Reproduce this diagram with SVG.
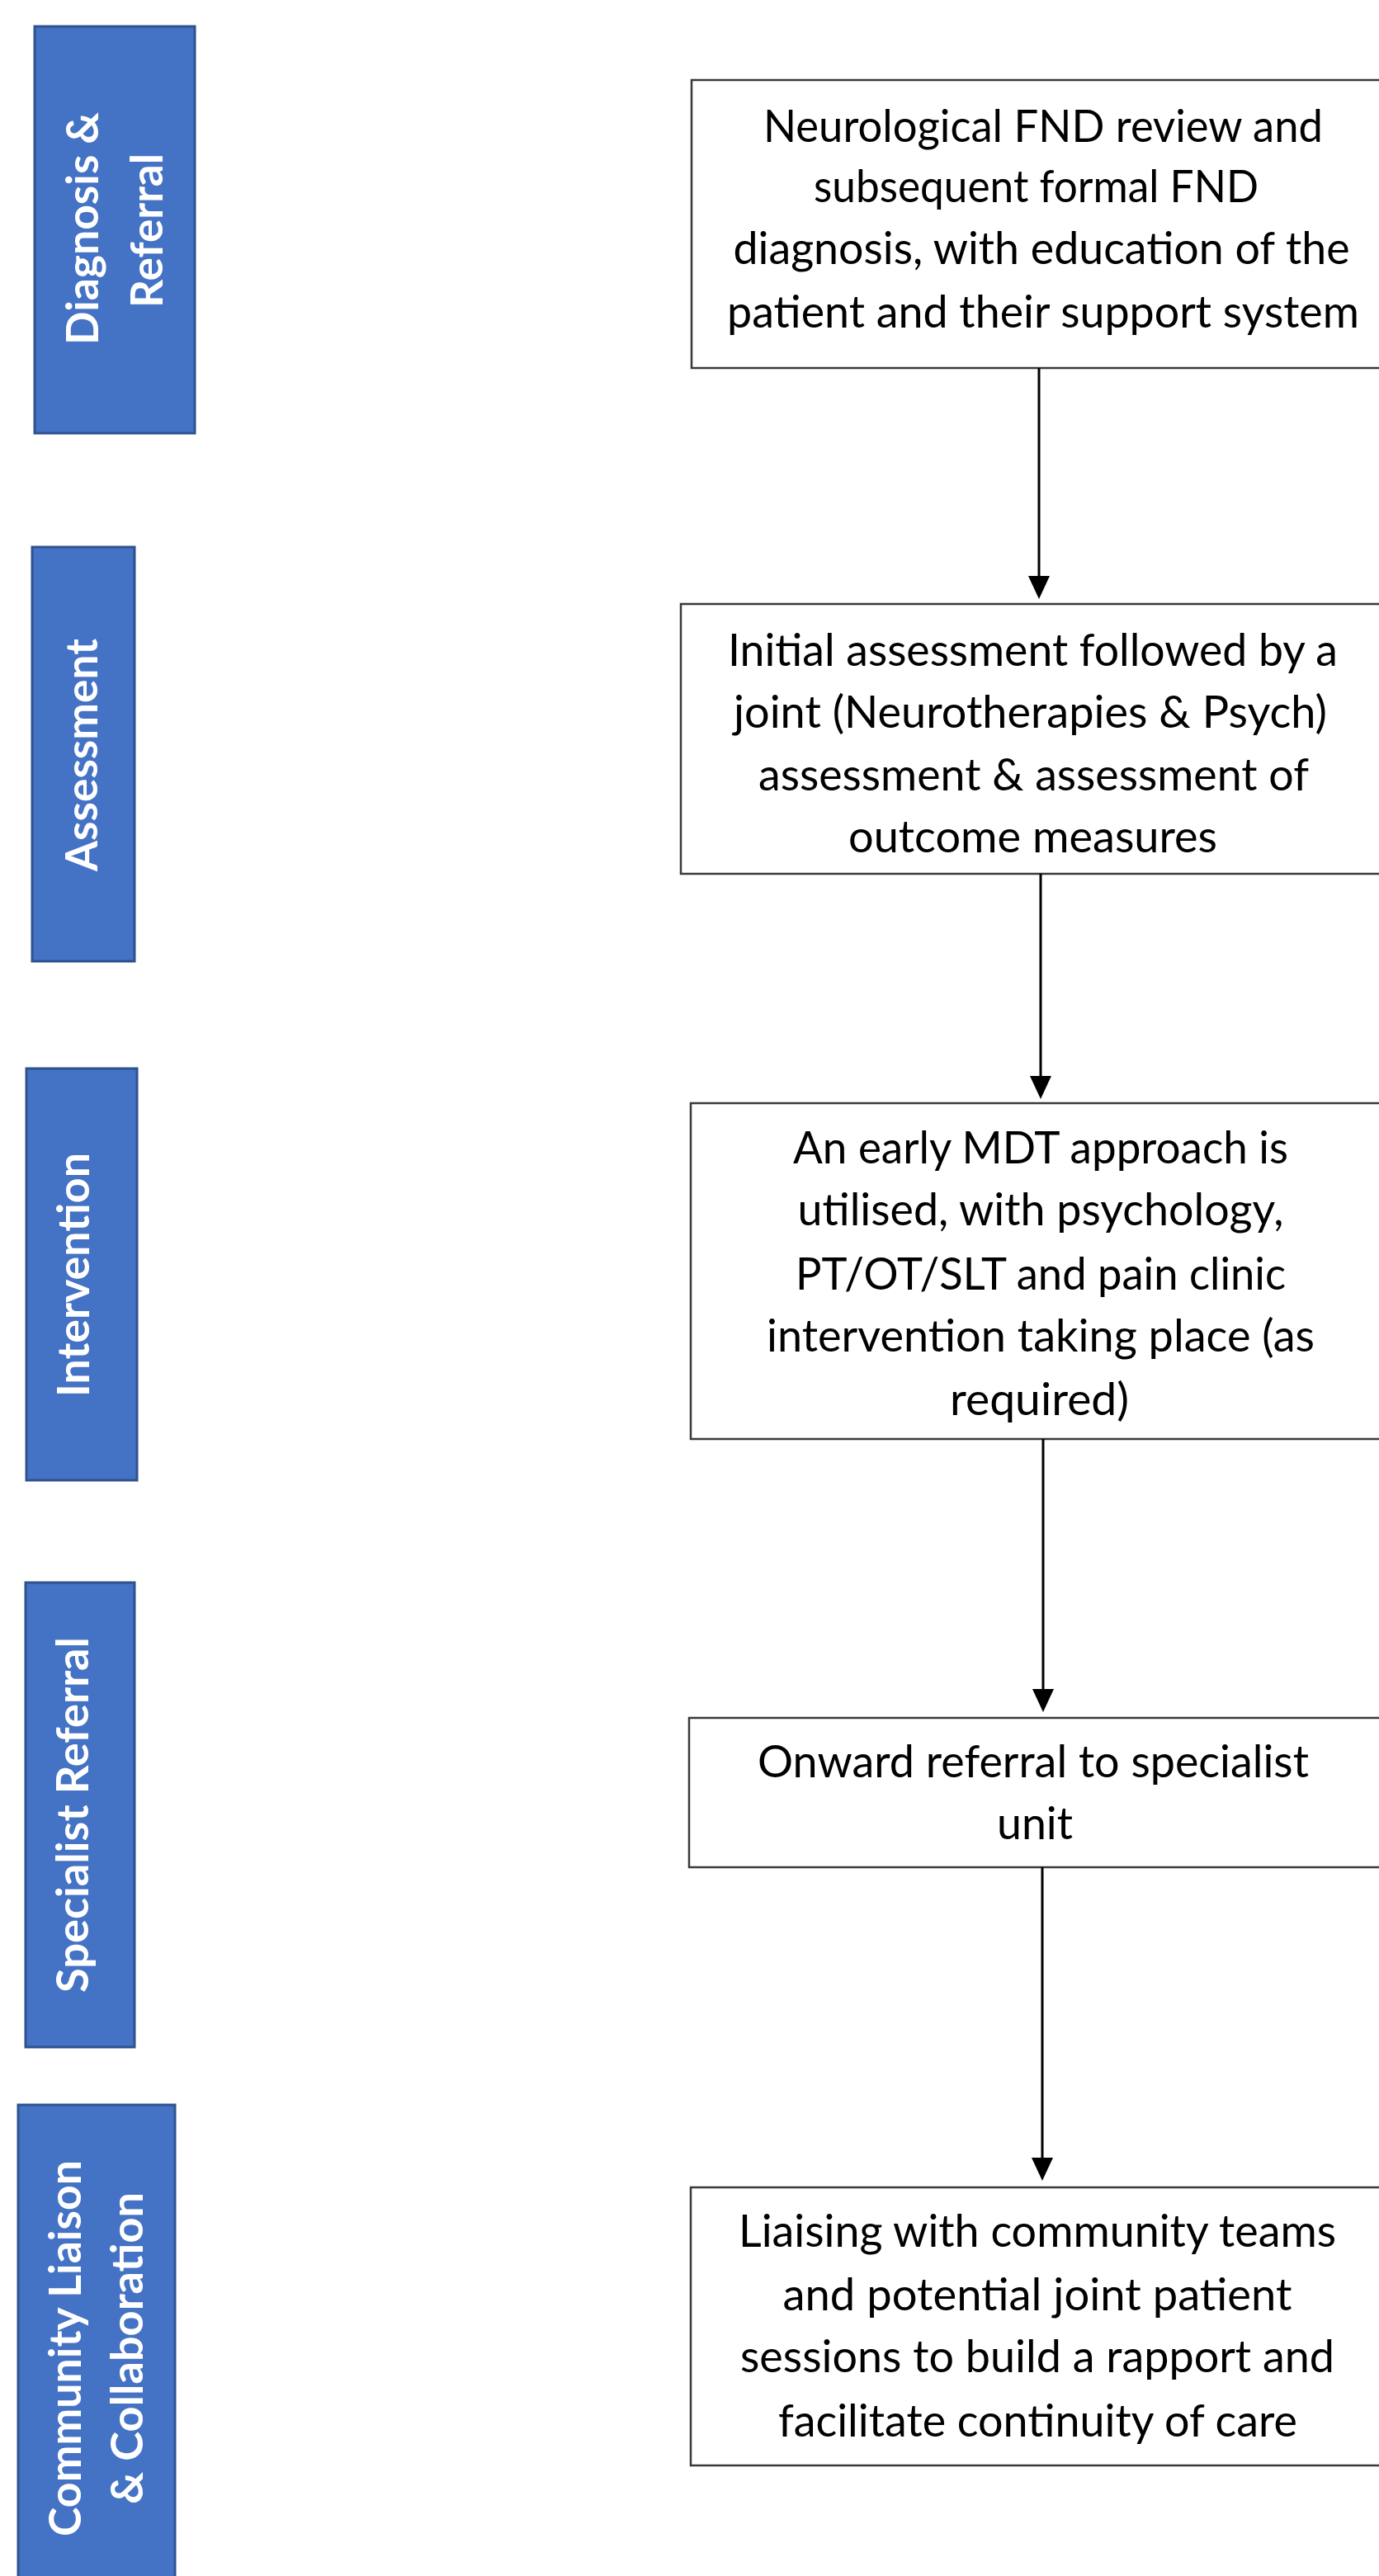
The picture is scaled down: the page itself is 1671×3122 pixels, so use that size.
<svg xmlns="http://www.w3.org/2000/svg" width="1671" height="3122" viewBox="0 0 1671 3122">
  <style>
    .stage rect { fill: #4472C4; stroke: #2F528F; stroke-width: 3; }
    .stage text { fill: #FFFFFF; font-family: Lato, "Open Sans", "Liberation Sans", sans-serif; font-weight: 700; font-size: 54px; text-anchor: middle; }
    .step rect { fill: #FFFFFF; stroke: #3A3A3A; stroke-width: 2.5; }
    .step text { fill: #000000; font-family: Lato, "Open Sans", "Liberation Sans", sans-serif; font-weight: 400; font-size: 54px; text-anchor: middle; }
    .conn line { stroke: #000000; stroke-width: 3; fill: none; }
  </style>
  <defs>
    <marker id="arrow" viewBox="0 0 28 26" refX="0" refY="13" markerWidth="28" markerHeight="26" markerUnits="userSpaceOnUse" orient="auto">
      <path d="M0,0 L28,13 L0,26 Z" fill="#000000"/>
    </marker>
  </defs>
  <rect x="0" y="0" width="1671" height="3122" fill="#FFFFFF"/>

  <!-- Stage labels -->
  <g id="stage-diagnosis" class="stage">
    <rect x="42" y="32" width="194" height="493"/>
    <text transform="translate(119,277) rotate(-90)" textLength="282" lengthAdjust="spacingAndGlyphs">Diagnosis &amp;</text>
    <text transform="translate(197,279.5) rotate(-90)" textLength="187" lengthAdjust="spacingAndGlyphs">Referral</text>
  </g>
  <g id="stage-assessment" class="stage">
    <rect x="39" y="663" width="124" height="502"/>
    <text transform="translate(118,915) rotate(-90)" textLength="282" lengthAdjust="spacingAndGlyphs">Assessment</text>
  </g>
  <g id="stage-intervention" class="stage">
    <rect x="32" y="1295" width="134" height="499"/>
    <text transform="translate(108,1545) rotate(-90)" textLength="296" lengthAdjust="spacingAndGlyphs">Intervention</text>
  </g>
  <g id="stage-specialist" class="stage">
    <rect x="31" y="1918" width="132" height="563"/>
    <text transform="translate(107,2199.5) rotate(-90)" textLength="431" lengthAdjust="spacingAndGlyphs">Specialist Referral</text>
  </g>
  <g id="stage-community" class="stage">
    <rect x="22" y="2551" width="190" height="600"/>
    <text transform="translate(98,2846) rotate(-90)" textLength="456" lengthAdjust="spacingAndGlyphs">Community Liaison</text>
    <text transform="translate(173,2846) rotate(-90)" textLength="378" lengthAdjust="spacingAndGlyphs">&amp; Collaboration</text>
  </g>

  <!-- Process steps -->
  <g id="step-diagnosis" class="step">
    <rect x="838" y="97" width="860" height="349"/>
    <text x="1264" y="172" textLength="678" lengthAdjust="spacingAndGlyphs">Neurological FND review and</text>
    <text x="1255.5" y="245" textLength="539" lengthAdjust="spacingAndGlyphs">subsequent formal FND</text>
    <text x="1262" y="320" textLength="747" lengthAdjust="spacingAndGlyphs">diagnosis, with education of the</text>
    <text x="1264" y="396.5" textLength="766" lengthAdjust="spacingAndGlyphs">patient and their support system</text>
  </g>
  <g id="step-assessment" class="step">
    <rect x="825" y="732" width="870" height="327"/>
    <text x="1251.5" y="806.5" textLength="739" lengthAdjust="spacingAndGlyphs">Initial assessment followed by a</text>
    <text x="1248.5" y="881.5" textLength="719" lengthAdjust="spacingAndGlyphs">joint (Neurotherapies &amp; Psych)</text>
    <text x="1252.5" y="958" textLength="667" lengthAdjust="spacingAndGlyphs">assessment &amp; assessment of</text>
    <text x="1251.5" y="1033" textLength="447" lengthAdjust="spacingAndGlyphs">outcome measures</text>
  </g>
  <g id="step-intervention" class="step">
    <rect x="837" y="1337" width="860" height="407"/>
    <text x="1261" y="1410" textLength="600" lengthAdjust="spacingAndGlyphs">An early MDT approach is</text>
    <text x="1261" y="1485" textLength="589" lengthAdjust="spacingAndGlyphs">utilised, with psychology,</text>
    <text x="1261" y="1563" textLength="594" lengthAdjust="spacingAndGlyphs">PT/OT/SLT and pain clinic</text>
    <text x="1261" y="1638" textLength="664" lengthAdjust="spacingAndGlyphs">intervention taking place (as</text>
    <text x="1259.5" y="1715" textLength="217" lengthAdjust="spacingAndGlyphs">required)</text>
  </g>
  <g id="step-specialist" class="step">
    <rect x="835" y="2082" width="860" height="181"/>
    <text x="1252" y="2153.5" textLength="668" lengthAdjust="spacingAndGlyphs">Onward referral to specialist</text>
    <text x="1254" y="2229" textLength="92" lengthAdjust="spacingAndGlyphs">unit</text>
  </g>
  <g id="step-community" class="step">
    <rect x="837" y="2651" width="860" height="337"/>
    <text x="1257" y="2723" textLength="724" lengthAdjust="spacingAndGlyphs">Liaising with community teams</text>
    <text x="1257" y="2800" textLength="617" lengthAdjust="spacingAndGlyphs">and potential joint patient</text>
    <text x="1257" y="2875" textLength="720" lengthAdjust="spacingAndGlyphs">sessions to build a rapport and</text>
    <text x="1257.5" y="2953" textLength="629" lengthAdjust="spacingAndGlyphs">facilitate continuity of care</text>
  </g>

  <!-- Connectors -->
  <g id="connectors" class="conn">
    <line x1="1259" y1="446" x2="1259" y2="698" marker-end="url(#arrow)"/>
    <line x1="1261" y1="1059" x2="1261" y2="1304" marker-end="url(#arrow)"/>
    <line x1="1264" y1="1744" x2="1264" y2="2047" marker-end="url(#arrow)"/>
    <line x1="1263" y1="2263" x2="1263" y2="2615" marker-end="url(#arrow)"/>
  </g>
</svg>
